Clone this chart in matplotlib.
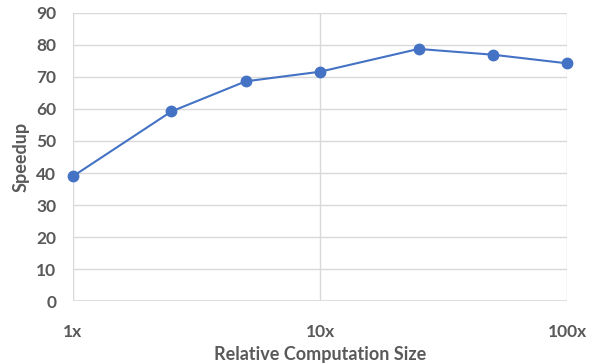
import matplotlib
matplotlib.use("Agg")
import matplotlib.pyplot as plt

sizes = [1, 2.5, 5, 10, 25, 50, 100]
speedup = [39.0, 59.2, 68.6, 71.6, 78.7, 76.9, 74.2]
x_ticks = [1, 10, 100]
x_labels = ["1x", "10x", "100x"]
y_ticks = [0, 10, 20, 30, 40, 50, 60, 70, 80, 90]

plt.rcParams['font.family'] = ['Lato', 'DejaVu Sans']

fig = plt.figure(figsize=(5.97, 3.64), dpi=100)
ax = fig.add_axes([0.1223, 0.1723, 0.8280, 0.7928])

ax.plot(sizes, speedup, color='#4472C4', linewidth=1.5, marker='o',
        markersize=7.5, zorder=3, clip_on=False)

ax.set_xscale('log')
ax.set_xlim(1, 100)
ax.set_ylim(0, 90)
ax.set_xticks(x_ticks)
ax.set_xticklabels(x_labels)
ax.minorticks_off()
ax.set_yticks(y_ticks)

ax.grid(True, color='#d9d9d9', linewidth=1)
ax.set_axisbelow(True)
for s in ax.spines.values():
    s.set_visible(False)
ax.axhline(0, color='#d9d9d9', linewidth=1.2, zorder=1)
ax.axvline(1, color='#d9d9d9', linewidth=1.2, zorder=1)

ax.tick_params(axis='both', length=0, labelsize=12.5, labelcolor='#595959')
ax.tick_params(axis='x', pad=16)
ax.tick_params(axis='y', pad=12)
for lbl in ax.get_xticklabels() + ax.get_yticklabels():
    lbl.set_fontweight('bold')

ax.set_xlabel("Relative Computation Size", fontsize=13, fontweight='bold',
              color='#595959', labelpad=5)
ax.set_ylabel("Speedup", fontsize=13, fontweight='bold', color='#595959',
              labelpad=5)

fig.savefig("out.png", dpi=100)
